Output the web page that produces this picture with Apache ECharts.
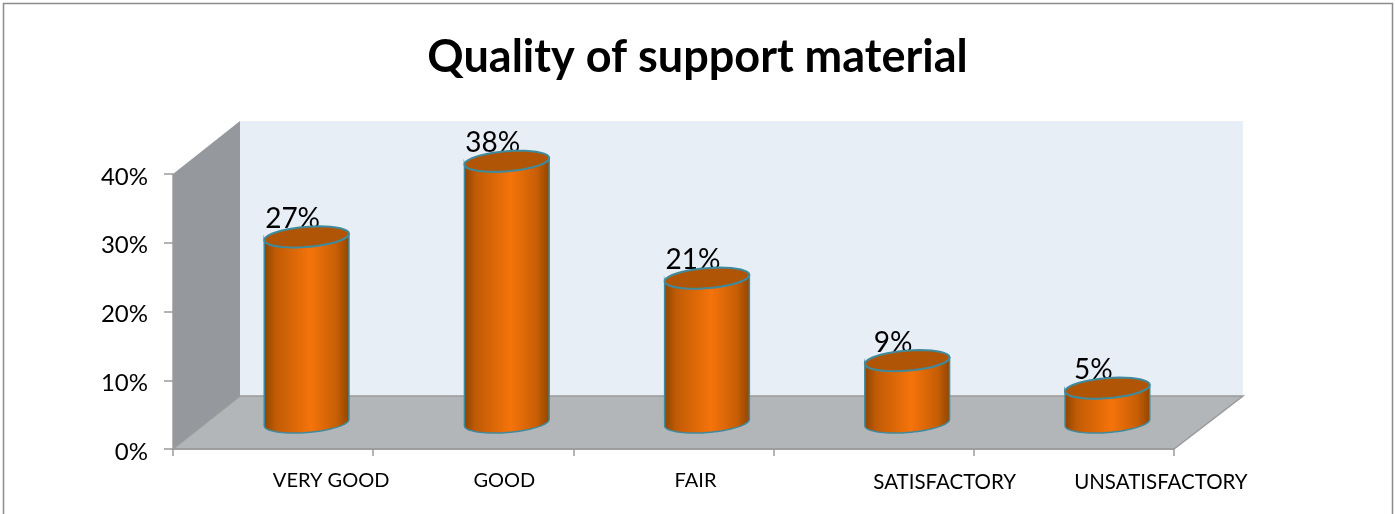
<!DOCTYPE html>
<html>
<head>
<meta charset="utf-8">
<title>Quality of support material</title>
<script src="https://cdn.jsdelivr.net/npm/echarts@6/dist/echarts.min.js"></script>
<style>
html, body { margin: 0; padding: 0; background: #fff; }
#chart { width: 1395px; height: 514px; }
</style>
</head>
<body>
<div id="chart"></div>
<script>
var categories = ['VERY GOOD', 'GOOD', 'FAIR', 'SATISFACTORY', 'UNSATISFACTORY'];
var values = [27, 38, 21, 9, 5];
var yTicks = [0, 10, 20, 30, 40];

// the labels were dragged by hand in the original, so each one has its own shift
var labelShift = [58, 31, 22, 71, 87];
var labelDrop = [0, 0, 0, 1, 1];

var depthX = 67, depthY = -53;   // how far the back wall sits behind the axes
var backWiden = 2;               // back wall is a touch wider than the front edge
var fontName = 'Lato';

function pct(v) { return v + '%'; }

// points of a tilted ellipse between two angles
function ellipsePts(cx, cy, a, b, tilt, from, to) {
    var pts = [];
    for (var i = 0; i <= 40; i++) {
        var t = from + (to - from) * i / 40;
        var ex = a * Math.cos(t), ey = b * Math.sin(t);
        pts.push([
            cx + ex * Math.cos(tilt) - ey * Math.sin(tilt),
            cy + ex * Math.sin(tilt) + ey * Math.cos(tilt)
        ]);
    }
    return pts;
}

function renderWalls(params) {
    var r = params.coordSys;
    var l = r.x, t = r.y, b = r.y + r.height, e = r.x + r.width;
    return {
        type: 'group',
        children: [{
            type: 'polygon',
            shape: { points: [[l + depthX, t + depthY], [e + depthX + backWiden, t + depthY], [e + depthX + backWiden, b + depthY], [l + depthX, b + depthY]] },
            style: { fill: '#e7eef6' }
        }, {
            type: 'polygon',
            shape: { points: [[l, t], [l + depthX, t + depthY], [l + depthX, b + depthY], [l, b]] },
            style: { fill: '#95989c' }
        }, {
            type: 'polygon',
            shape: { points: [[l, b], [l + depthX, b + depthY], [e + depthX + backWiden, b + depthY], [e, b]] },
            style: { fill: '#b2b6b9', stroke: '#9b9b9b', lineWidth: 1.5 }
        }]
    };
}

function renderBar(params, api) {
    var top = api.coord([api.value(0), api.value(1)]);
    var base = api.coord([api.value(0), 0]);
    var cx = top[0] + depthX / 2, topY = top[1] + depthY / 2, baseY = base[1] + depthY / 2;
    var a = 42.5, b = 10, tilt = -0.08;
    var bodyPts = ellipsePts(cx, baseY, a, b, tilt, Math.PI, 0)
        .concat(ellipsePts(cx, topY, a, b, tilt, 0, Math.PI));
    return {
        type: 'group',
        children: [{
            type: 'text',
            style: {
                text: pct(api.value(1)),
                x: cx - 14, y: topY - 18,
                align: 'center', verticalAlign: 'middle',
                font: '28px ' + fontName, fill: '#000'
            }
        }, {
            type: 'polygon',
            shape: { points: bodyPts },
            style: {
                fill: new echarts.graphic.LinearGradient(0, 0, 1, 0, [
                    { offset: 0, color: '#8c4300' },
                    { offset: 0.14, color: '#c05b05' },
                    { offset: 0.55, color: '#f5730a' },
                    { offset: 0.85, color: '#c65e05' },
                    { offset: 1, color: '#8f4500' }
                ]),
                stroke: '#3f8a9c', lineWidth: 1.5
            }
        }, {
            type: 'polygon',
            shape: { points: ellipsePts(cx, topY, a, b, tilt, 0, Math.PI * 2) },
            style: { fill: '#b05405', stroke: '#3f8a9c', lineWidth: 2 }
        }]
    };
}

var option = {
    backgroundColor: '#fff',
    animation: false,
    title: {
        text: 'Quality of support material',
        left: 'center',
        top: 30,
        textStyle: { fontFamily: fontName, fontWeight: 'bold', fontSize: 45, color: '#000' }
    },
    grid: { left: 173, top: 174, width: 1001, height: 275 },
    xAxis: {
        type: 'category',
        data: categories,
        z: 3,
        axisLine: { lineStyle: { color: '#9b9b9b', width: 1.5 } },
        axisTick: { show: true, length: 7, lineStyle: { color: '#9b9b9b', width: 1.5 } },
        axisLabel: {
            interval: 0,
            hideOverlap: false,
            margin: 22,
            formatter: function(v, i) { return '{l' + i + '|' + v + '}'; },
            rich: {
                l0: { padding: [labelDrop[0], 0, 0, labelShift[0] * 2], fontFamily: fontName, fontSize: 20, color: '#000' },
                l1: { padding: [labelDrop[1], 0, 0, labelShift[1] * 2], fontFamily: fontName, fontSize: 20, color: '#000' },
                l2: { padding: [labelDrop[2], 0, 0, labelShift[2] * 2], fontFamily: fontName, fontSize: 20, color: '#000' },
                l3: { padding: [labelDrop[3], 0, 0, labelShift[3] * 2], fontFamily: fontName, fontSize: 20.5, color: '#000' },
                l4: { padding: [labelDrop[4], 0, 0, labelShift[4] * 2], fontFamily: fontName, fontSize: 20.5, color: '#000' }
            }
        }
    },
    yAxis: {
        type: 'value',
        min: yTicks[0],
        max: yTicks[yTicks.length - 1],
        interval: 10,
        z: 3,
        axisLine: { show: true, lineStyle: { color: '#9b9b9b', width: 1.5 } },
        axisTick: { show: true, length: 9, lineStyle: { color: '#9b9b9b', width: 1.5 } },
        axisLabel: {
            margin: 25,
            formatter: function(v) { return '{p|' + pct(v) + '}'; },
            rich: {
                p: { padding: [6, 0, 0, 0], fontFamily: fontName, fontSize: 24, color: '#000' }
            }
        },
        splitLine: { show: false }
    },
    series: [{
        type: 'custom',
        z: 1,
        silent: true,
        clip: false,
        data: [0],
        renderItem: renderWalls
    }, {
        type: 'custom',
        z: 2,
        clip: false,
        data: categories.map(function(c, i) { return [i, values[i]]; }),
        encode: { x: 0, y: 1 },
        renderItem: renderBar
    }],
    graphic: [{
        type: 'rect',
        shape: { x: 3.5, y: 3.5, width: 1389, height: 520 },
        style: { fill: 'none', stroke: '#8c8c8c', lineWidth: 1.5 },
        silent: true
    }]
};

var chart = echarts.init(document.getElementById('chart'));
chart.setOption(option);
</script>
</body>
</html>
